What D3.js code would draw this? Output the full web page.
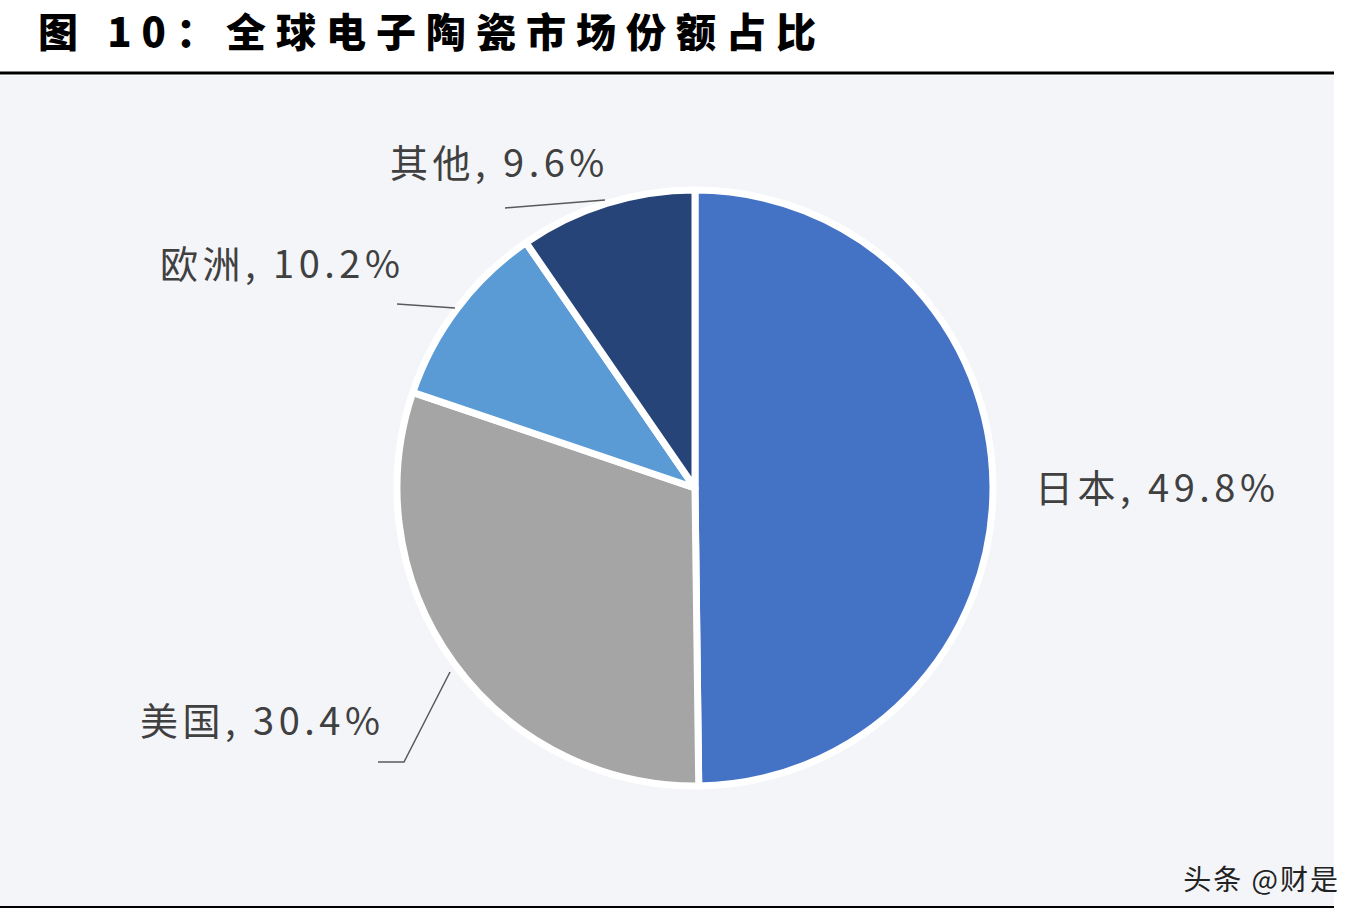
<!DOCTYPE html>
<html><head><meta charset="utf-8">
<script src="https://cdn.jsdelivr.net/npm/d3@7"></script>
<style>body{margin:0;background:#fff;}</style>
</head><body>
<div id="chart"></div>
<script>
// data
var regions = ["日本", "美国", "欧洲", "其他"];
var shares = [49.8, 30.4, 10.2, 9.6];
var colors = ["#4472c4", "#a5a5a5", "#5b9bd5", "#264478"];

var width = 1368, height = 924;
var svg = d3.select("#chart").append("svg")
    .attr("width", width).attr("height", height);

svg.append("rect").attr("x", 0).attr("y", 76).attr("width", 1334).attr("height", 830)
    .attr("fill", "#f4f5f9");

svg.append("text").attr("x", 38).attr("y", 47)
    .attr("font-family", "Noto Sans CJK SC").attr("font-weight", "900")
    .attr("font-size", "40px").attr("fill", "#000")
    .attr("letter-spacing", "10px")
    .text("图 10：全球电子陶瓷市场份额占比");

svg.append("line").attr("x1", 0).attr("x2", 1334).attr("y1", 73).attr("y2", 73)
    .attr("stroke", "#000").attr("stroke-width", 3);
svg.append("line").attr("x1", 0).attr("x2", 1334).attr("y1", 907).attr("y2", 907)
    .attr("stroke", "#000").attr("stroke-width", 2);

var cx = 695, cy = 488, r = 298;
var pie = d3.pie().sort(null).value(function(d) { return d; });
var arc = d3.arc().innerRadius(0).outerRadius(r);
var g = svg.append("g").attr("transform", "translate(" + cx + "," + cy + ")");
g.selectAll("path").data(pie(shares)).enter().append("path")
    .attr("d", arc)
    .attr("fill", function(d, i) { return colors[i]; })
    .attr("stroke", "#fff").attr("stroke-width", 7).attr("stroke-linejoin", "round");

// labels
var labelPos = [[1035, 502], [140, 735], [160, 278], [390, 177]];
svg.selectAll(".lbl").data(regions).enter().append("text")
    .attr("class", "lbl")
    .attr("x", function(d, i) { return labelPos[i][0]; })
    .attr("y", function(d, i) { return labelPos[i][1]; })
    .attr("font-family", "Noto Sans CJK SC").attr("font-size", "38px")
    .attr("letter-spacing", "4.5px")
    .attr("fill", "#404040")
    .text(function(d, i) { return d + ", " + shares[i] + "%"; });

var leaders = [
  [[378, 762], [404, 762], [450, 672]],
  [[397, 304], [455, 308]],
  [[505, 208], [605, 200]]
];
leaders.forEach(function(pts) {
  svg.append("path").attr("d", d3.line()(pts))
    .attr("fill", "none").attr("stroke", "#595959").attr("stroke-width", 1.5);
});

svg.append("text").attr("x", 1340).attr("y", 890).attr("text-anchor", "end")
    .attr("font-family", "Noto Sans CJK SC").attr("font-size", "28px").attr("fill", "#222")
    .attr("letter-spacing", "2px")
    .text("头条 @财是");
</script>
</body></html>
